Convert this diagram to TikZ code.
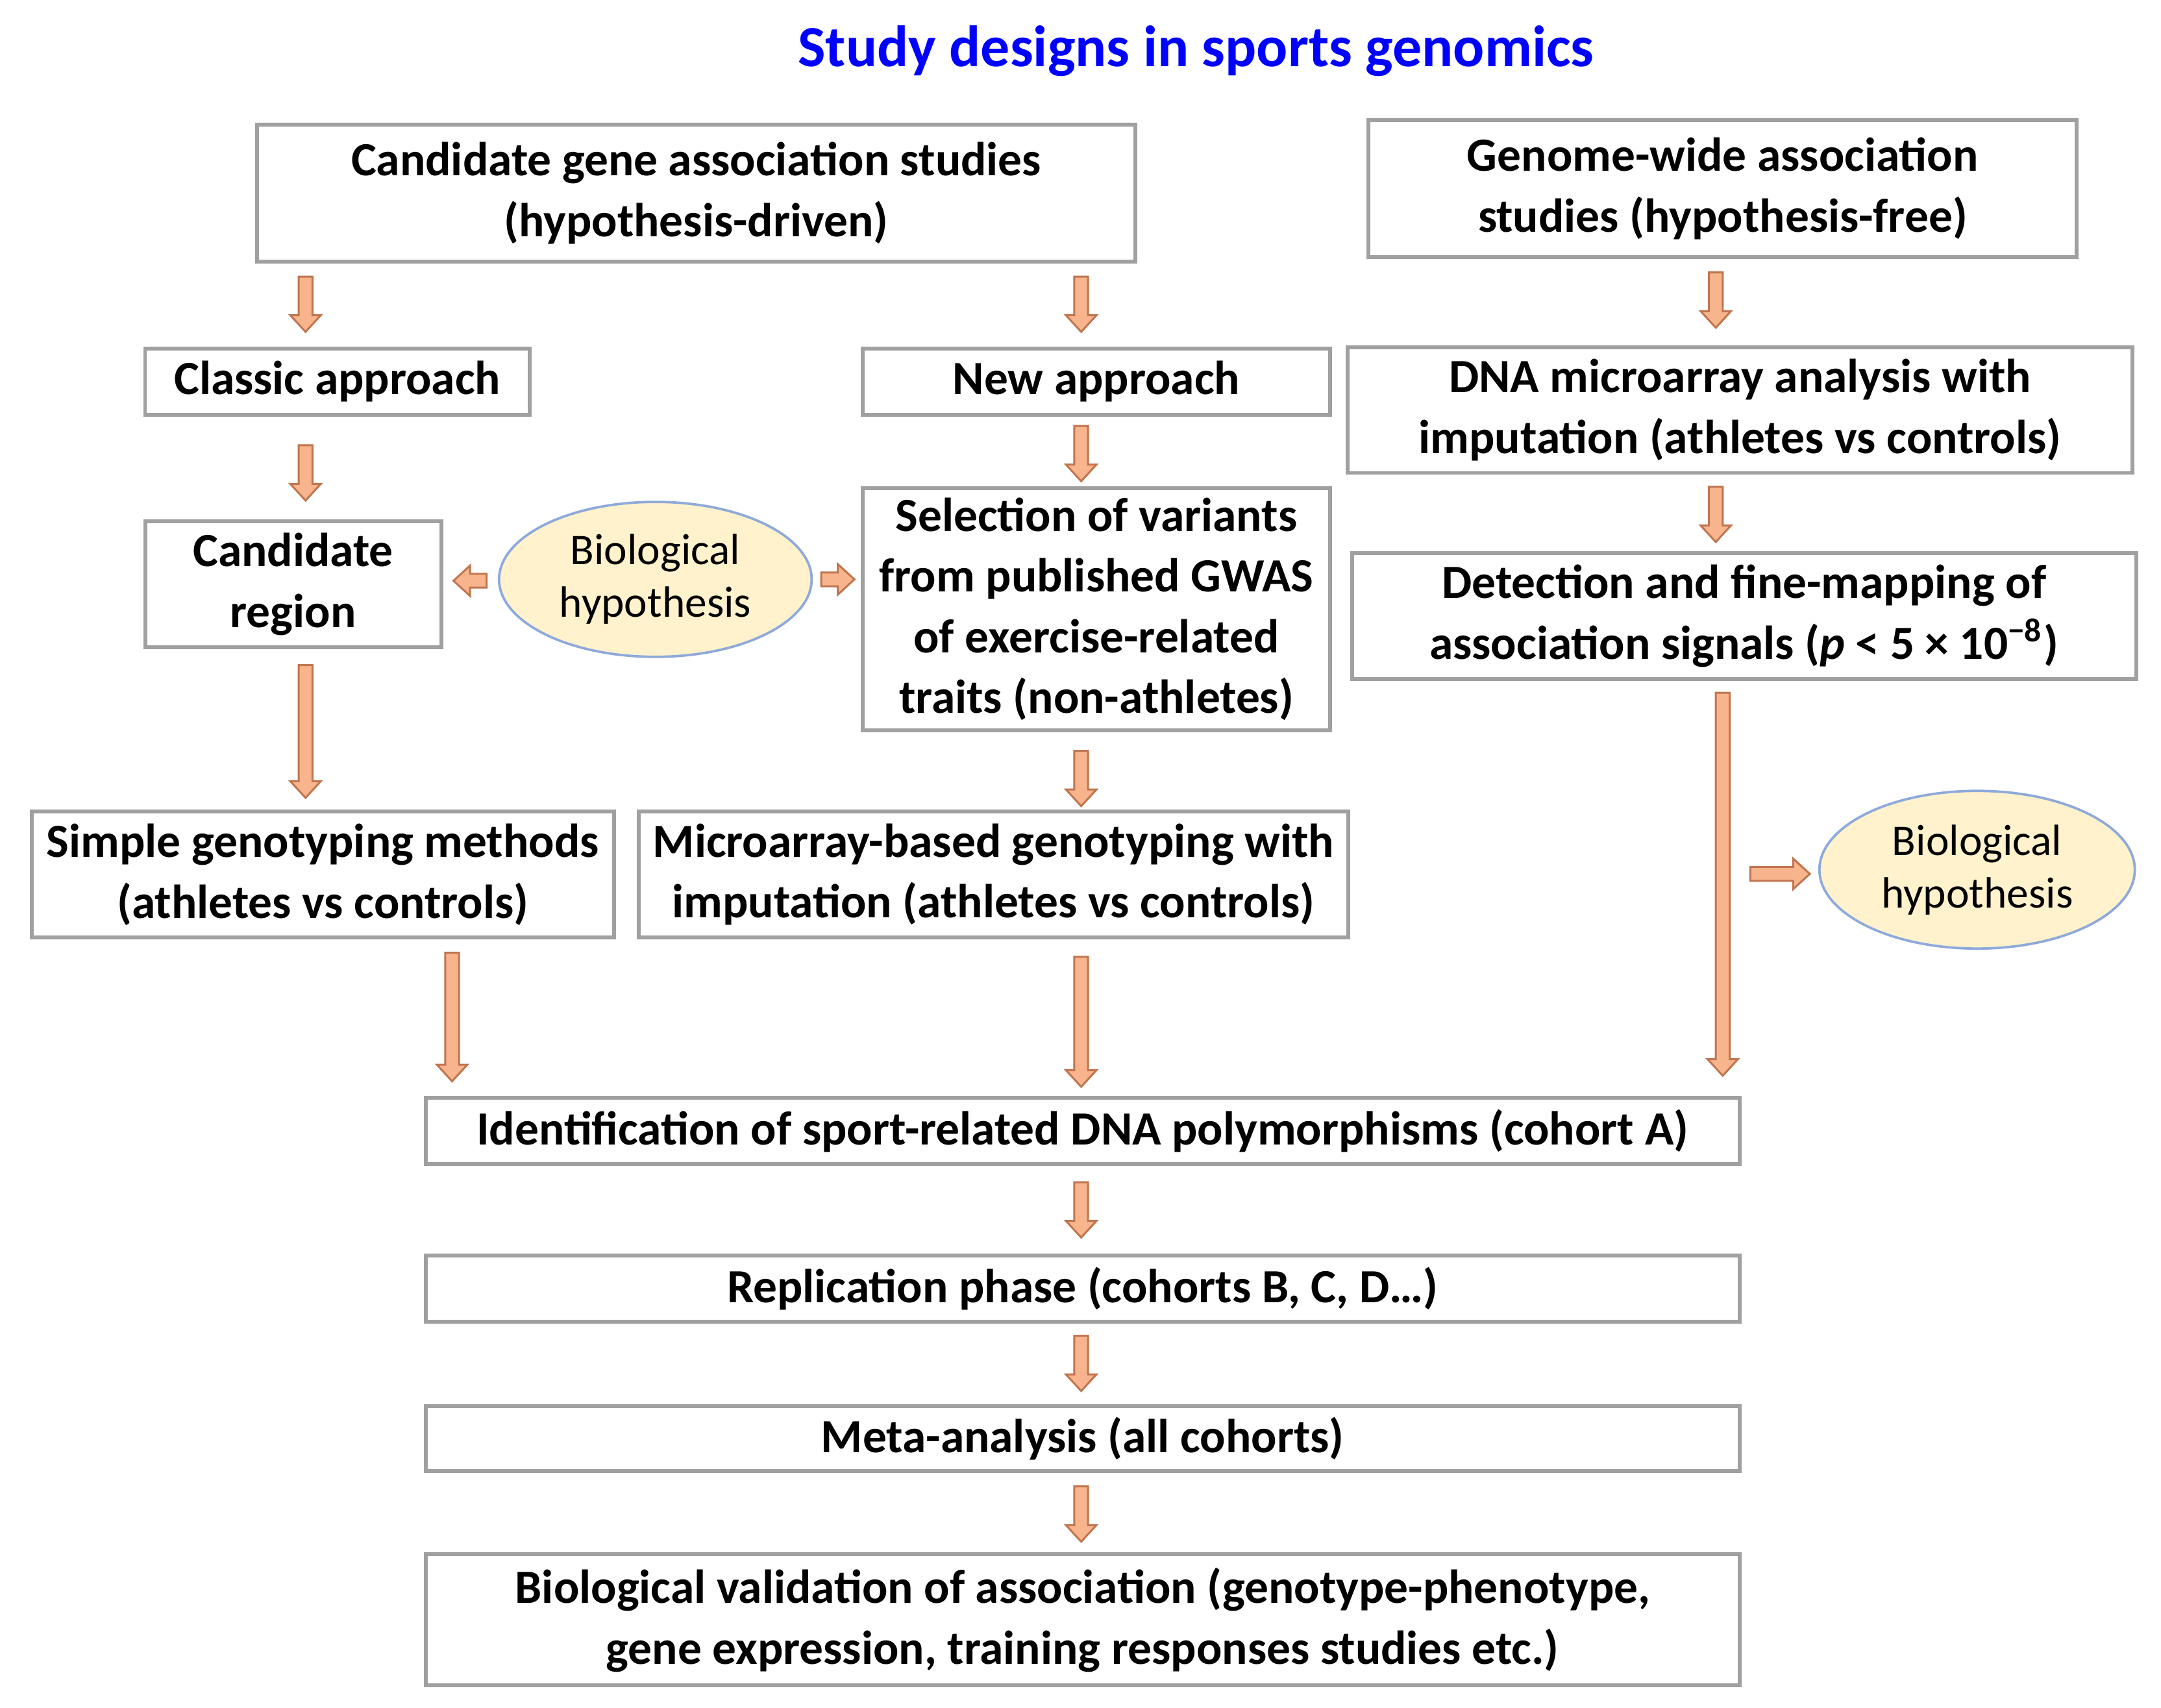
\documentclass[tikz,border=0pt]{standalone}
\usepackage{fontspec}
\setmainfont{Carlito}
\usetikzlibrary{shapes.geometric}
\definecolor{afill}{HTML}{F8B48C}
\definecolor{aline}{HTML}{C0754F}
\definecolor{efill}{HTML}{FFF2CC}
\definecolor{eline}{HTML}{8EA9DB}
\definecolor{bline}{HTML}{A0A0A0}
\newcommand\darr[3]{\filldraw[fill=afill,draw=aline,line width=0.4pt] ({#1-5},#2) -- ({#1+5},#2) -- ({#1+5},{#3-12}) -- ({#1+11},{#3-12}) -- (#1,#3) -- ({#1-11},{#3-12}) -- ({#1-5},{#3-12}) -- cycle;}
\newcommand\harr[3]{\filldraw[fill=afill,draw=aline,line width=0.4pt] (#2,{#1-5}) -- (#2,{#1+5}) -- ({#3-12*sign(#3-#2)},{#1+5}) -- ({#3-12*sign(#3-#2)},{#1+11}) -- (#3,#1) -- ({#3-12*sign(#3-#2)},{#1-11}) -- ({#3-12*sign(#3-#2)},{#1-5}) -- cycle;}
\begin{document}
\begin{tikzpicture}[x=0.01cm,y=-0.01cm,
  box/.style={draw=bline,line width=0.8pt,align=center,inner sep=0pt,font=\fontsize{9.8}{12.5}\selectfont\bfseries},
  ell/.style={ellipse,draw=eline,fill=efill,line width=0.5pt,align=center,inner sep=0pt,font=\fontsize{9}{10.8}\selectfont}]
\useasboundingbox[fill=white] (0,0) rectangle (1563,1235);
\node[font=\fontsize{12}{14}\selectfont\bfseries,text=blue] (title) at (865,37) {Study designs in sports genomics};
\newcommand\bx[6]{\node[box,minimum width={(#4-#2)*0.2845pt},minimum height={(#5-#3)*0.2845pt}] (#1) at ({(#2+#4)/2},{(#3+#5)/2}) {#6};}
\bx{cgas}{186}{90}{821}{189}{Candidate gene association studies\\(hypothesis-driven)}
\bx{gwas}{990}{87}{1502}{186}{Genome-wide association\\studies (hypothesis-free)}
\bx{classic}{105}{252}{383}{300}{Classic approach}
\bx{new}{624}{252}{962}{300}{New approach}
\bx{dna}{975}{251}{1542}{342}{DNA microarray analysis with\\imputation (athletes vs controls)}
\bx{cand}{105}{377}{319}{468}{Candidate\\region}
\bx{sel}{624}{353}{962}{528}{Selection of variants\\from published GWAS\\of exercise-related\\traits (non-athletes)}
\bx{det}{978}{400}{1545}{491}{Detection and fine-mapping of\\association signals (\textit{p} < 5 × 10\textsuperscript{−8})}
\bx{simple}{23}{587}{444}{678}{Simple genotyping methods\\(athletes vs controls)}
\bx{micro}{462}{587}{975}{678}{Microarray-based genotyping with\\imputation (athletes vs controls)}
\bx{ident}{308}{794}{1258}{842}{Identification of sport-related DNA polymorphisms (cohort A)}
\bx{repl}{308}{908}{1258}{956}{Replication phase (cohorts B, C, D…)}
\bx{meta}{308}{1017}{1258}{1064}{Meta-analysis (all cohorts)}
\bx{valid}{308}{1124}{1258}{1219}{Biological validation of association (genotype-phenotype,\\gene expression, training responses studies etc.)}
\node[ell,minimum width={226*0.2845pt},minimum height={112*0.2845pt}] (bh1) at (474,419) {Biological\\hypothesis};
\node[ell,minimum width={228*0.2845pt},minimum height={114*0.2845pt}] (bh2) at (1430,629) {Biological\\hypothesis};
\darr{221}{200}{240}
\darr{782}{200}{240}
\darr{1241}{197}{237}
\darr{221}{322}{362}
\darr{782}{308}{348}
\darr{1241}{352}{392}
\darr{221}{481}{577}
\darr{782}{543}{583}
\darr{327}{689}{782}
\darr{782}{692}{786}
\darr{1246}{501}{778}
\darr{782}{855}{895}
\darr{782}{966}{1006}
\darr{782}{1075}{1115}
\harr{420}{352}{328}
\harr{419}{594}{618}
\harr{632}{1266}{1309}
\end{tikzpicture}
\end{document}
